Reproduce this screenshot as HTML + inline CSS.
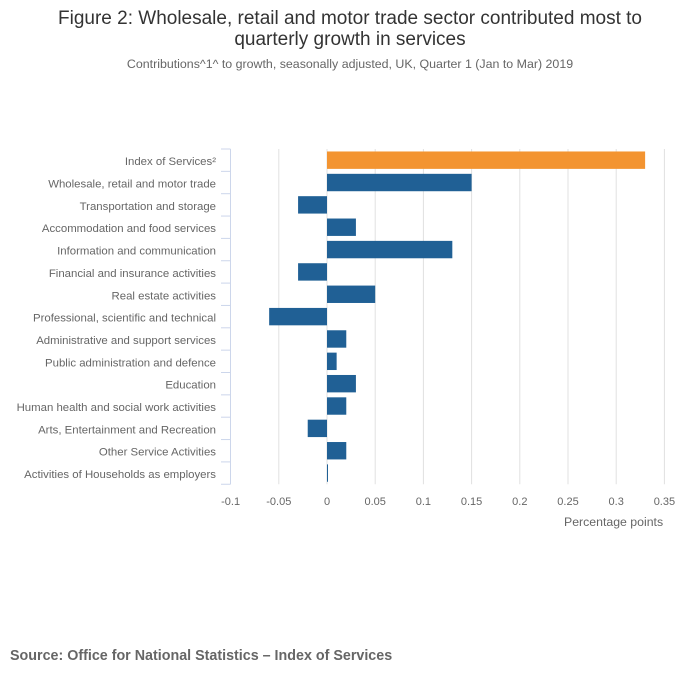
<!DOCTYPE html>
<html><head><meta charset="utf-8"><style>
body{margin:0;background:#fff;font-family:"Liberation Sans",sans-serif;}
#c{position:relative;width:700px;height:682px;}
</style></head><body>
<div id="c">
<svg id="s" width="700" height="682" xmlns="http://www.w3.org/2000/svg">
<text x="350" y="24" text-anchor="middle" font-size="19" fill="#333">Figure 2: Wholesale, retail and motor trade sector contributed most to</text>
<text x="350" y="45" text-anchor="middle" font-size="19" fill="#333">quarterly growth in services</text>
<text x="350" y="68" text-anchor="middle" font-size="12.4" fill="#666">Contributions^1^ to growth, seasonally adjusted, UK, Quarter 1 (Jan to Mar) 2019</text>
<text x="564" y="526" font-size="12.3" fill="#666">Percentage points</text>
<text x="10" y="660" font-size="14.3" font-weight="bold" fill="#666">Source: Office for National Statistics – Index of Services</text>
<g id="g"></g>
</svg>
</div>
<script>
const categories=["Index of Services²","Wholesale, retail and motor trade","Transportation and storage","Accommodation and food services","Information and communication","Financial and insurance activities","Real estate activities","Professional, scientific and technical","Administrative and support services","Public administration and defence","Education","Human health and social work activities","Arts, Entertainment and Recreation","Other Service Activities","Activities of Households as employers"];
const values=[0.33,0.15,-0.03,0.03,0.13,-0.03,0.05,-0.06,0.02,0.01,0.03,0.02,-0.02,0.02,0.001];
const ticks=[-0.1,-0.05,0,0.05,0.1,0.15,0.2,0.25,0.3,0.35];
const tickLabels=["-0.1","-0.05","0","0.05","0.1","0.15","0.2","0.25","0.3","0.35"];
const NS="http://www.w3.org/2000/svg";
const g=document.getElementById('g');
const x=v=>327+v*964;
const top0=149,step=22.35;
const y=i=>top0+i*step;
function mk(t,a){const e=document.createElementNS(NS,t);for(const k in a)e.setAttribute(k,a[k]);g.appendChild(e);return e;}
ticks.forEach((t,i)=>{
  if(i>0){const l=mk('line',{x1:x(t),x2:x(t),y1:top0,y2:y(15),stroke:'#e0e0e0','stroke-width':1});
  
  }
  const tx=mk('text',{x:x(t),y:505,'text-anchor':'middle','font-size':11,fill:'#666'});
  tx.textContent=tickLabels[i];
  
  
});
const ax=mk('line',{x1:230.5,x2:230.5,y1:top0,y2:y(15),stroke:'#ccd6eb','stroke-width':1});


for(let i=0;i<=15;i++){const t=mk('line',{x1:221,x2:230.5,y1:y(i),y2:y(i),stroke:'#ccd6eb','stroke-width':1});

}
categories.forEach((c,i)=>{
  const cy=y(i)+step/2;
  const tx=mk('text',{x:216,y:cy+5,'text-anchor':'end','font-size':11.4,fill:'#666'});
  tx.textContent=c;
  
  
  const v=values[i];
  const x0=Math.min(x(0),x(v)),w=Math.max(Math.abs(x(v)-x(0)),1);
  const r=mk('rect',{x:x0,y:cy-8.7,width:w,height:17.4,fill:i===0?'#f39431':'#206095'});
  
  
});
</script>
</body></html>
